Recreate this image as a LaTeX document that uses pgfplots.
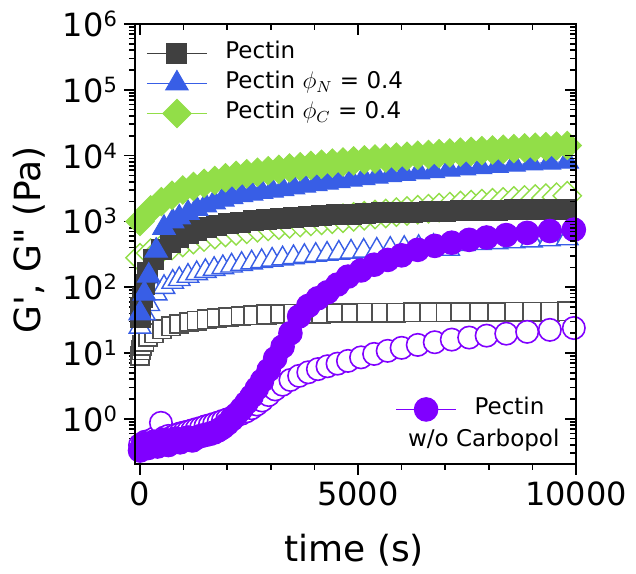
\documentclass[border=0pt]{standalone}
\usepackage{pgfplots}
\pgfplotsset{compat=1.18}
\usepackage{fontspec}
\setmainfont{DejaVu Sans}
\definecolor{cBlack}{RGB}{64,64,64}
\definecolor{cGray}{RGB}{80,80,80}
\definecolor{cBlue}{RGB}{56,94,230}
\definecolor{cGreen}{RGB}{146,222,72}
\definecolor{cPurple}{RGB}{128,0,255}
\newcommand{\pw}[1]{10\raisebox{5pt}{\fontsize{10.5}{10.5}\selectfont #1}}
\pgfplotsset{
 myaxisbase/.style={
   scale only axis, width=220.5pt, height=220pt,
   xmin=-115, xmax=10000, ymin=0.206, ymax=1e6,
   scaled x ticks=false, scaled y ticks=false,
   axis line style={line width=1pt},
   major tick length=5.5pt, minor tick length=3pt,
   tick style={line width=0.8pt, black},
   xtick={0,5000,10000},
   minor xtick={1000,2000,3000,4000,6000,7000,8000,9000},
   ytick={1,10,100,1000,10000,100000,1000000},
   minor ytick={0.3,0.4,0.5,0.6,0.7,0.8,0.9,2,3,4,5,6,7,8,9,20,30,40,50,60,70,80,90,200,300,400,500,600,700,800,900,2000,3000,4000,5000,6000,7000,8000,9000,2e4,3e4,4e4,5e4,6e4,7e4,8e4,9e4,2e5,3e5,4e5,5e5,6e5,7e5,8e5,9e5},
   legend style={draw=none, fill=none, inner sep=0pt, row sep=0pt, column sep=9pt,
     font=\fontsize{11.5}{11.5}\selectfont, nodes={inner sep=0pt, text height=10pt, text depth=5pt}},
   legend cell align=left,
   legend image code/.code={\draw[mark repeat=2,mark phase=2] plot coordinates {(0pt,0pt)(15pt,0pt)(30pt,0pt)};},
 },
 blackopen/.style={color=cGray, line width=0.5pt, mark=square*, mark size=4.6pt, mark options={fill=white, line width=0.9pt}},
 blackfill/.style={color=cBlack, line width=0.5pt, mark=square*, mark size=5pt, mark options={fill=cBlack}},
 blueopen/.style={color=cBlue, line width=0.5pt, mark=triangle*, mark size=6.2pt, mark options={fill=white, line width=0.7pt}},
 bluefill/.style={color=cBlue, line width=0.5pt, mark=triangle*, mark size=6.5pt, mark options={fill=cBlue}},
 greenopen/.style={color=cGreen, line width=0.5pt, mark=square*, mark size=5pt, mark options={fill=white, line width=0.7pt, rotate=45}},
 greenfill/.style={color=cGreen, line width=0.5pt, mark=square*, mark size=5pt, mark options={fill=cGreen, rotate=45}},
 purpleopen/.style={color=cPurple, line width=0.5pt, mark=*, mark size=5.6pt, mark options={fill=white, line width=0.8pt}},
 purplefill/.style={color=cPurple, line width=0.5pt, mark=*, mark size=5.9pt, mark options={fill=cPurple}},
}
\begin{document}
\begin{tikzpicture}
\begin{axis}[myaxisbase, ymode=log, at={(0pt,0pt)}, anchor=south west,
  tick align=outside, xtick pos=left, ytick pos=left,
  xticklabels={0,5000,10000},
  yticklabels={\pw{0},\pw{1},\pw{2},\pw{3},\pw{4},\pw{5},\pw{6}},
  tick label style={font=\fontsize{16}{16}\selectfont},
  label style={font=\fontsize{18}{18}\selectfont},
  xlabel={time (s)}, ylabel={G\textquotesingle, G\textquotedbl{} (Pa)},
  xlabel style={at={(axis description cs:0.497,-0.195)}, anchor=center},
  ylabel style={at={(axis description cs:-0.239,0.509)}, anchor=center},
  legend style={at={(0.025,0.968)}, anchor=north west},
]
% G'' (open)
\addplot[blackopen, forget plot] coordinates {(0,9)(20,11)(46,13)(100,15)(180,17.5)(320,20)(500,23)(710,25.5)(890,27.5)(1120,29.5)(1300,31)(1530,32.5)(1760,34)(2030,35.5)(2310,36.5)(2600,37.5)(2900,38.5)(3220,39)(3520,39.5)(3860,40)(4160,40)(4500,40.5)(4840,40.5)(5180,41)(5530,41)(5870,41)(6260,41.5)(6640,41.5)(7010,41.5)(7350,42)(7780,42)(8200,42)(8590,42.5)(9000,42.5)(9410,42.5)(9790,43)};
\addplot[blueopen, forget plot] coordinates {(0,25)(100,40)(200,55)(370,80)(550,100)(750,120)(900,132)(1100,148)(1300,162)(1500,175)(1700,188)(1900,200)(2100,212)(2330,224)(2560,236)(2790,248)(3030,260)(3270,272)(3520,284)(3770,296)(4030,308)(4290,320)(4560,332)(4840,344)(5130,356)(5430,368)(5740,380)(6060,392)(6390,405)(6730,420)(7080,380)(7440,450)(7810,465)(8190,480)(8580,495)(8980,510)(9390,530)(9800,550)};
\addplot[greenopen, forget plot] coordinates {(0,280)(245,330)(490,380)(735,430)(980,480)(1225,530)(1470,580)(1715,630)(1960,680)(2205,720)(2450,760)(2695,800)(2940,840)(3185,880)(3430,920)(3675,960)(3920,1000)(4165,1040)(4410,1080)(4655,1120)(4900,1170)(5145,1220)(5390,1270)(5635,1320)(5880,1380)(6125,1440)(6370,1500)(6615,1560)(6860,1620)(7105,1680)(7350,1740)(7595,1800)(7840,1860)(8085,1920)(8330,1980)(8575,2050)(8820,2120)(9065,2190)(9310,2260)(9555,2330)(9800,2450)};
\addplot[purpleopen, forget plot] coordinates {(0,0.40)(60,0.42)(120,0.45)(180,0.43)(250,0.47)(320,0.50)(400,0.48)(480,0.87)(560,0.52)(650,0.55)(740,0.53)(830,0.57)(920,0.60)(1010,0.62)(1100,0.64)(1200,0.67)(1300,0.70)(1400,0.73)(1500,0.77)(1600,0.80)(1700,0.84)(1800,0.88)(1900,0.93)(2000,0.98)(2110,1.05)(2220,1.12)(2330,1.2)(2440,1.3)(2560,1.45)(2680,1.65)(2800,1.9)(2950,2.3)(3100,2.8)(3270,3.3)(3450,3.9)(3650,4.5)(3860,5.1)(4080,5.7)(4300,6.3)(4530,6.9)(4770,7.6)(5070,8.6)(5370,9.7)(5680,10.8)(6000,12)(6370,13.3)(6760,14.6)(7150,16)(7550,17.2)(7950,18.4)(8400,19.7)(8880,21)(9400,22.5)(9950,24)};
% G' (filled)
\addplot[blackfill] coordinates {(0,35)(20,50)(46,70)(100,110)(180,170)(320,260)(500,370)(710,480)(890,570)(1120,660)(1300,730)(1530,800)(1760,860)(2030,920)(2310,980)(2600,1030)(2900,1070)(3220,1110)(3520,1150)(3860,1190)(4160,1230)(4500,1260)(4840,1290)(5180,1320)(5530,1350)(5870,1370)(6260,1390)(6640,1410)(7010,1430)(7350,1450)(7780,1470)(8200,1490)(8590,1500)(9000,1520)(9410,1530)(9790,1540)};
\addlegendentry{Pectin}
\addplot[bluefill] coordinates {(0,40)(100,80)(200,150)(370,360)(550,800)(750,1000)(900,1150)(1100,1350)(1300,1550)(1500,1750)(1700,1950)(1900,2150)(2100,2350)(2330,2500)(2560,2650)(2790,2800)(3030,2950)(3270,3100)(3520,3300)(3770,3500)(4030,3700)(4290,3900)(4560,4100)(4840,4300)(5130,4550)(5430,4800)(5740,5050)(6060,5300)(6390,5550)(6730,5800)(7080,6100)(7440,6400)(7810,6700)(8190,7000)(8580,7300)(8980,7600)(9390,7850)(9800,8100)};
\addlegendentry{Pectin $\phi_N$ = 0.4}
\addplot[greenfill] coordinates {(0,1000)(245,1500)(490,2000)(735,2500)(980,3000)(1225,3400)(1470,3800)(1715,4200)(1960,4600)(2205,5000)(2450,5300)(2695,5600)(2940,5900)(3185,6200)(3430,6500)(3675,6800)(3920,7100)(4165,7400)(4410,7700)(4655,8000)(4900,8300)(5145,8600)(5390,8900)(5635,9200)(5880,9500)(6125,9800)(6370,10100)(6615,10400)(6860,10700)(7105,11000)(7350,11300)(7595,11600)(7840,11900)(8085,12200)(8330,12500)(8575,12800)(8820,13100)(9065,13400)(9310,13700)(9555,14000)(9800,14300)};
\addlegendentry{Pectin $\phi_C$ = 0.4}
\addplot[purplefill, forget plot] coordinates {(0,0.33)(60,0.38)(120,0.42)(180,0.36)(250,0.40)(320,0.45)(400,0.38)(480,0.43)(560,0.48)(650,0.40)(740,0.45)(830,0.50)(920,0.44)(1010,0.48)(1100,0.52)(1200,0.47)(1300,0.52)(1400,0.55)(1500,0.57)(1600,0.59)(1700,0.62)(1800,0.67)(1900,0.74)(2000,0.84)(2110,0.98)(2220,1.18)(2330,1.42)(2440,1.75)(2560,2.2)(2680,2.9)(2800,3.8)(2950,5.5)(3100,8.3)(3270,12.5)(3450,20)(3650,36)(3860,52)(4080,68)(4300,84)(4530,110)(4770,145)(5070,180)(5370,220)(5680,260)(6000,305)(6370,370)(6760,425)(7150,475)(7550,525)(7950,570)(8400,620)(8880,670)(9400,715)(9950,750)};
\end{axis}
\begin{axis}[myaxisbase, ymode=log, at={(0pt,0pt)}, anchor=south west,
  tick align=inside, xtick pos=right, ytick pos=right,
  xticklabels={}, yticklabels={},
  legend style={at={(0.59,0.159)}, anchor=north west},
]
\addlegendimage{purplefill}
\addlegendentry{Pectin\makebox[0pt][r]{\smash{\raisebox{-16pt}{w/o Carbopol}}\hspace*{-7.5pt}}}
\end{axis}
\pgfresetboundingbox
\path[use as bounding box] (-67.5pt,-54.5pt) rectangle (250.5pt,232pt);
\end{tikzpicture}
\end{document}
